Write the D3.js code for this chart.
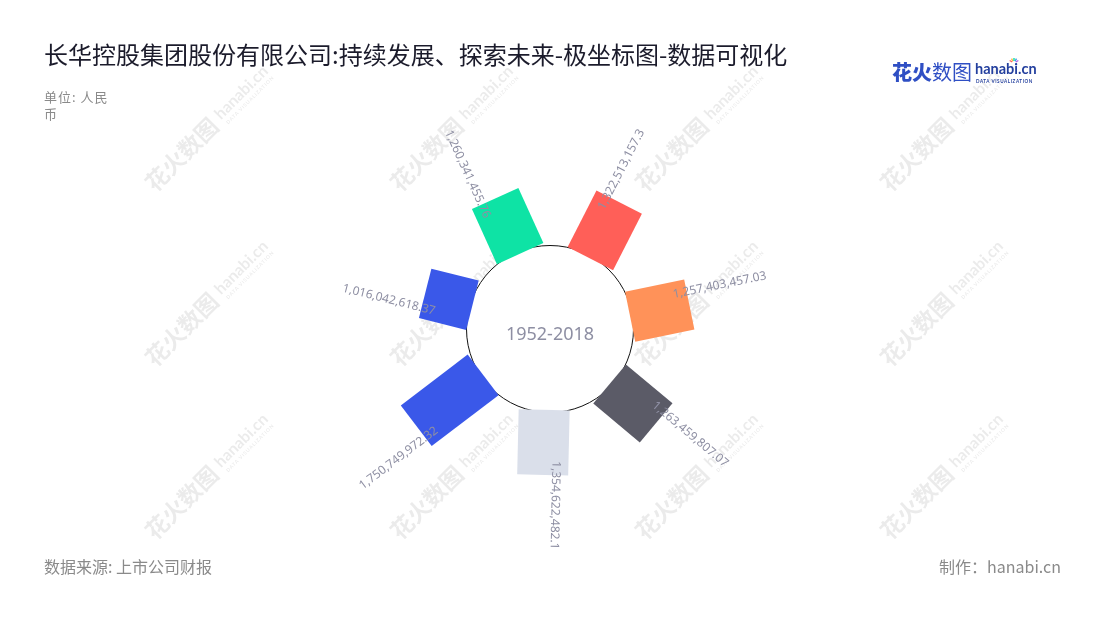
<!DOCTYPE html>
<html><head><meta charset="utf-8">
<script src="https://cdn.jsdelivr.net/npm/d3@7"></script>
<style>
body{margin:0;background:#fff;}
svg{display:block;font-family:"Noto Sans CJK SC","Noto Sans",sans-serif;}
</style></head><body>
<svg id="chart" width="1100" height="620"></svg>
<script>
// ---- data ----
const categories = ["2012", "2013", "2014", "2015", "2016", "2017", "2018"];
const values = [1016042618.37, 1260341455.76, 1322513157.3, 1257403457.03, 1263459807.07, 1354622482.1, 1750749972.32];
const palette = ["#3a58e9", "#0ee3a5", "#ff5f58", "#ff9259", "#5b5b67", "#dadfea"];
const centerLabel = "1952-2018";
const titleText = "长华控股集团股份有限公司:持续发展、探索未来-极坐标图-数据可视化";
const unitLines = ["单位: 人民", "币"];
const sourceText = "数据来源: 上市公司财报";
const creditText = "制作：hanabi.cn";

const data = categories.map((c, i) => ({cat: c, value: values[i]}));

const svg = d3.select("#chart");
const W = 1100, H = 620;

// ---- watermarks ----
const wm = svg.append("g").attr("opacity", 0.08);
[185, 430, 675, 920].forEach(cx => {
  [152, 327, 500].forEach(cy => {
    const g = wm.append("g").attr("transform", `translate(${cx},${cy}) rotate(-45)`);
    g.append("text").attr("x", -50).attr("y", 8).attr("font-size", 23).attr("font-weight", 700)
      .attr("fill", "#000").text("花火数图");
    g.append("text").attr("x", 48).attr("y", 3).attr("font-size", 16).attr("font-weight", 700)
      .attr("font-family", "Lato, sans-serif").attr("fill", "#000").text("hanabi.cn");
    g.append("text").attr("x", 50).attr("y", 11).attr("font-size", 5).attr("font-weight", 700)
      .attr("font-family", "Lato, sans-serif").attr("letter-spacing", 0.8).attr("fill", "#000").text("DATA VISUALIZATION");
  });
});

// ---- title & notes ----
svg.append("text").attr("x", 44).attr("y", 64).attr("font-size", 24).attr("fill", "#1b1b2b")
  .text(titleText);
unitLines.forEach((t, i) => {
  svg.append("text").attr("x", 44).attr("y", 102 + i * 17).attr("font-size", 13)
    .attr("letter-spacing", 1).attr("fill", "#8a8a8a").text(t);
});
svg.append("text").attr("x", 44).attr("y", 573).attr("font-size", 16).attr("fill", "#8a8a8a").text(sourceText);
svg.append("text").attr("x", 1061).attr("y", 573).attr("text-anchor", "end").attr("font-size", 16)
  .attr("fill", "#8a8a8a").text(creditText);

// ---- logo ----
const logo = svg.append("g");
logo.append("text").attr("x", 892).attr("y", 80).attr("font-size", 20).attr("font-weight", 900)
  .attr("fill", "#2f4fc4").text("花火");
logo.append("text").attr("x", 932).attr("y", 80).attr("font-size", 20).attr("font-weight", 400)
  .attr("fill", "#2f4fc4").text("数图");
logo.append("text").attr("x", 975).attr("y", 74).attr("font-size", 14.5).attr("font-weight", 700)
  .attr("font-family", "Lato, sans-serif").attr("fill", "#233f9e").text("hanabi.cn");
logo.append("text").attr("x", 976).attr("y", 82.5).attr("font-size", 4.6).attr("font-weight", 700)
  .attr("font-family", "Lato, sans-serif").attr("letter-spacing", 0.55).attr("fill", "#233f9e").text("DATA VISUALIZATION");
["#ff5f58", "#ffb340", "#0ee3a5", "#3a9be9", "#b05fe9"].forEach((c, i) => {
  const a = (-150 + i * 30) * Math.PI / 180;
  logo.append("line").attr("x1", 1014 + Math.cos(a) * 2).attr("y1", 63 + Math.sin(a) * 2)
    .attr("x2", 1014 + Math.cos(a) * 5).attr("y2", 63 + Math.sin(a) * 5)
    .attr("stroke", c).attr("stroke-width", 1.4);
});

// ---- polar bars ----
const cx = 550, cy = 329;
const innerR = 81, circleR = 83.5;
const startDeg = -720 / 7 + 1.3;
const angle = d3.scaleBand().domain(categories).range([startDeg, startDeg + 360]).padding(0);
const radius = d3.scaleLinear().domain([0, 2e9]).range([innerR, 177]);
const color = d3.scaleOrdinal().domain(categories).range(palette);
const fmt = d3.format(",");
const barW = 51, barShift = 4;

const plot = svg.append("g").attr("transform", `translate(${cx},${cy})`);
plot.append("circle").attr("r", circleR).attr("fill", "#fff").attr("stroke", "#111").attr("stroke-width", 1);

const mid = d => angle(d.cat) + angle.bandwidth() / 2;
const isFlip = d => ((((mid(d) - 1.3) % 360) + 360) % 360) > 180.5;

plot.selectAll("rect.bar").data(data).join("rect").attr("class", "bar")
  .attr("transform", d => `rotate(${mid(d)})`)
  .attr("x", -barW / 2 + barShift)
  .attr("y", d => -radius(d.value))
  .attr("width", barW)
  .attr("height", d => radius(d.value) - innerR)
  .attr("fill", d => color(d.cat));

plot.append("text").attr("x", 0).attr("y", 4).attr("text-anchor", "middle").attr("dominant-baseline", "central")
  .attr("font-family", "'Noto Sans', sans-serif").attr("font-size", 18).attr("fill", "#8e8fa3").text(centerLabel);

// labels (clipped at the top of the plot area)
svg.append("clipPath").attr("id", "lblclip").append("rect")
  .attr("x", -cx).attr("y", 117 - cy).attr("width", W).attr("height", 450);
const labels = plot.append("g").attr("clip-path", "url(#lblclip)");
labels.selectAll("text").data(data).join("text")
  .attr("transform", d => `rotate(${mid(d)}) translate(-10,${-(radius(d.value) - 14)}) rotate(${isFlip(d) ? 90 : -90})`)
  .attr("text-anchor", d => isFlip(d) ? "end" : "start")
  .attr("dominant-baseline", "central")
  .attr("font-family", "'Noto Sans', sans-serif")
  .attr("font-size", 12)
  .attr("fill", "#8e8fa3")
  .text(d => fmt(d.value));
</script>
</body></html>
